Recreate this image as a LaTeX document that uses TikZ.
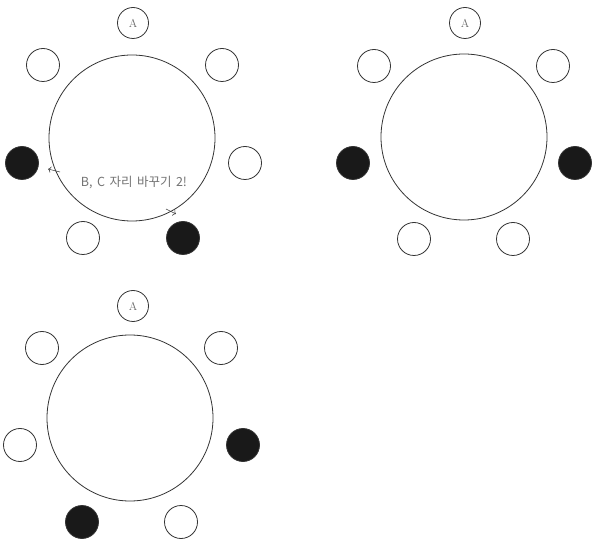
\documentclass[tikz,border=0pt]{standalone}
\usepackage{fontspec}
\newfontfamily\kofont[WordSpace=1.6]{Noto Sans CJK KR}
\usetikzlibrary{arrows.meta}

\begin{document}
\begin{tikzpicture}[x=1pt, y=-1pt,
    table/.style={draw=black!80, circle, line width=0.8pt, minimum size=166pt, inner sep=0pt},
    seat/.style={draw=black!80, circle, line width=0.8pt, minimum size=33pt, inner sep=0pt, text=black!60, font=\fontsize{11.5}{12}\selectfont},
    taken/.style={seat, fill=black!90},
    arr/.style={-{To[length=3pt]}, black!75, line width=0.6pt}]
    \useasboundingbox (0,0) rectangle (592,545);
    % first table: before the swap
    \node[table] (ta) at (132,138) {};
    \node[seat, minimum size=31pt] (ta-a) at (133,23) {A};
    \foreach \n/\x/\y/\s in {tl/43/65/seat, tr/222/65/seat, l/22/163/taken, r/245/163/seat, bl/83/238/seat, br/183/238/taken}
        \node[\s] (ta-\n) at (\x,\y) {};
    \node[text=black!55, font=\kofont\fontsize{12.5}{14}\selectfont] (swap) at (134,183) {B, C 자리 바꾸기 2!};
    \coordinate (swap-l) at (60,172);
    \coordinate (swap-lt) at (48,169);
    \coordinate (swap-r) at (166,209);
    \coordinate (swap-rt) at (176,214);
    \draw[arr] (swap-l) -- (swap-lt);
    \draw[arr] (swap-r) -- (swap-rt);
    % second table
    \node[table] (tb) at (464,137) {};
    \node[seat, minimum size=31pt] (tb-a) at (465,23) {A};
    \foreach \n/\x/\y/\s in {tl/374/66/seat, tr/553/66/seat, l/353/163/taken, r/575/163/taken, bl/414/239/seat, br/513/239/seat}
        \node[\s] (tb-\n) at (\x,\y) {};
    % third table
    \node[table] (tc) at (130,418) {};
    \node[seat, minimum size=31pt] (tc-a) at (133,306) {A};
    \foreach \n/\x/\y/\s in {tl/42/348/seat, tr/221/348/seat, l/20/445/seat, r/243/445/taken, bl/82/522/taken, br/181/522/seat}
        \node[\s] (tc-\n) at (\x,\y) {};
\end{tikzpicture}
\end{document}
